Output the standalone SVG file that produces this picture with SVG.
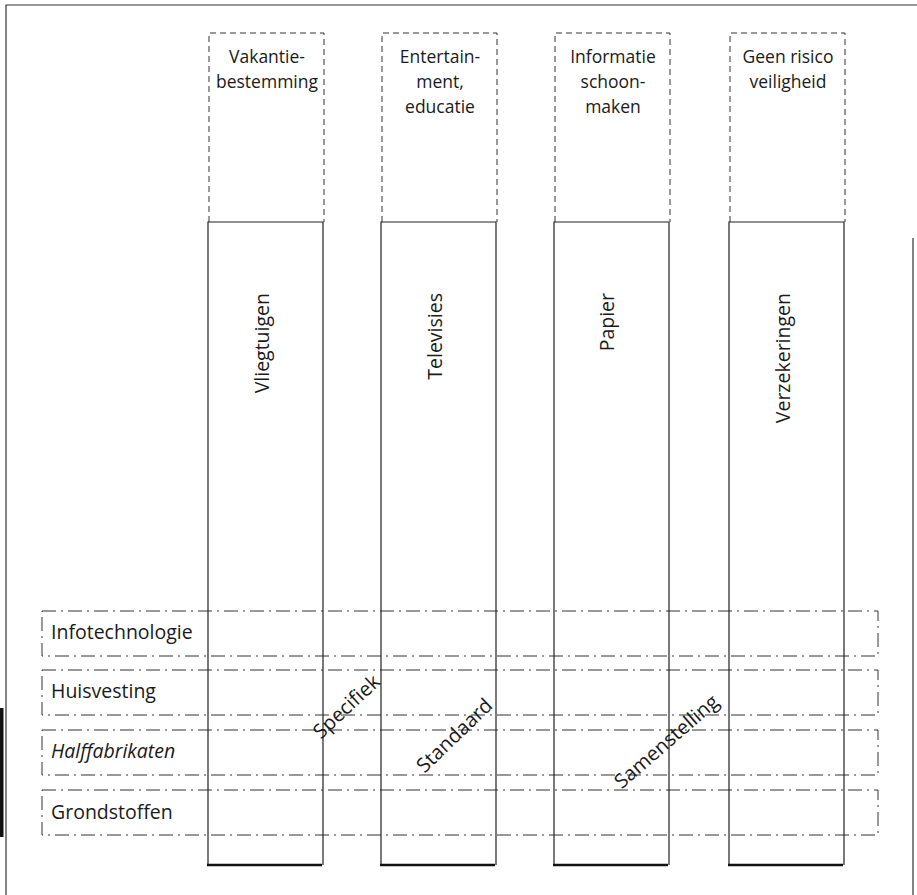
<svg xmlns="http://www.w3.org/2000/svg" width="917" height="895" viewBox="0 0 917 895">
<style>
text{font-family:"Open Sans","Noto Sans","DejaVu Sans",sans-serif;font-size:19.5px;fill:#1a1a1a}
.top{text-anchor:middle;font-size:17.5px}
.vert{text-anchor:end}
.diag{text-anchor:middle;dominant-baseline:central;font-size:20px}
.dash{fill:none;stroke:#333;stroke-width:1;stroke-dasharray:6 4}
.band{fill:none;stroke:#333;stroke-width:1;stroke-dasharray:14 5 2 5}
.col{fill:none;stroke:#222;stroke-width:1.2}
.base{stroke:#111;stroke-width:2.5}
.frame{stroke:#333;stroke-width:1.2;fill:none}
</style>
<rect width="917" height="895" fill="#fff"/>
<g id="frame">
<path class="frame" d="M6,895 V5 H917"/>
<path class="frame" d="M913,238 V895"/>
<rect x="0" y="708" width="3.5" height="129" fill="#111"/>
</g>
<g id="bands">
<g id="band-infotechnologie"><rect class="band" x="42" y="611" width="836" height="45"/><text x="51" y="639">Infotechnologie</text></g>
<g id="band-huisvesting"><rect class="band" x="42" y="670" width="836" height="45"/><text x="51" y="698">Huisvesting</text></g>
<g id="band-halffabrikaten"><rect class="band" x="42" y="730" width="836" height="45"/><text x="51" y="758" font-style="italic">Halffabrikaten</text></g>
<g id="band-grondstoffen"><rect class="band" x="42" y="790" width="836" height="45"/><text x="51" y="819">Grondstoffen</text></g>
</g>
<g id="col-vliegtuigen">
<path class="dash" d="M209,222 V33 H324 V222"/>
<path class="col" d="M208,865 V222 H323 V865"/>
<line class="base" x1="207" y1="865" x2="322" y2="865"/>
<text class="top" x="267" y="63">Vakantie-</text>
<text class="top" x="267" y="88">bestemming</text>
<text class="vert" transform="translate(269,293) rotate(-90)">Vliegtuigen</text>
</g>
<g id="col-televisies">
<path class="dash" d="M382,222 V33 H497 V222"/>
<path class="col" d="M381,865 V222 H496 V865"/>
<line class="base" x1="380" y1="865" x2="495" y2="865"/>
<text class="top" x="440" y="63">Entertain-</text>
<text class="top" x="440" y="88">ment,</text>
<text class="top" x="440" y="113">educatie</text>
<text class="vert" transform="translate(442,293) rotate(-90)">Televisies</text>
</g>
<g id="col-papier">
<path class="dash" d="M555,222 V33 H670 V222"/>
<path class="col" d="M554,865 V222 H669 V865"/>
<line class="base" x1="553" y1="865" x2="668" y2="865"/>
<text class="top" x="613" y="63">Informatie</text>
<text class="top" x="613" y="88">schoon-</text>
<text class="top" x="613" y="113">maken</text>
<text class="vert" transform="translate(614,293) rotate(-90)">Papier</text>
</g>
<g id="col-verzekeringen">
<path class="dash" d="M730,222 V33 H845 V222"/>
<path class="col" d="M729,865 V222 H844 V865"/>
<line class="base" x1="728" y1="865" x2="843" y2="865"/>
<text class="top" x="788" y="63">Geen risico</text>
<text class="top" x="788" y="88">veiligheid</text>
<text class="vert" transform="translate(790,293) rotate(-90)">Verzekeringen</text>
</g>
<g id="diagonal-labels">
<text class="diag" transform="translate(346,706) rotate(-43)">Specifiek</text>
<text class="diag" transform="translate(454,735) rotate(-44)">Standaard</text>
<text class="diag" transform="translate(666,741) rotate(-41)">Samenstelling</text>
</g>
</svg>
